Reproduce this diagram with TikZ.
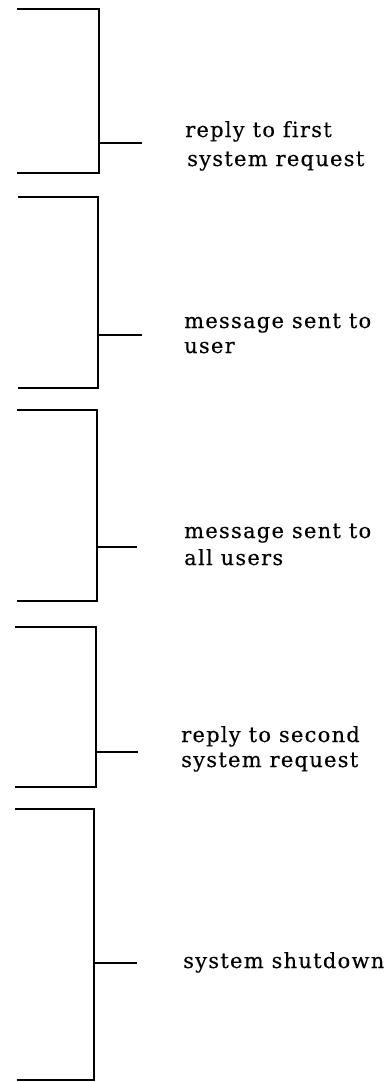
\documentclass[tikz,border=0pt]{standalone}
\usepackage{fontspec}
\setmainfont{DejaVu Serif}[LetterSpace=6, Ligatures=NoCommon, FakeBold=0.3]
\begin{document}
\begin{tikzpicture}[x=1pt,y=-1pt,
  br/.style={line width=1.7pt, line join=miter},
  lbl/.style={anchor=base west, inner sep=0pt, font=\fontsize{21}{25}\selectfont}]
\useasboundingbox (0,0) rectangle (390,1082);
% bracket 1
\draw[br] (17,9) -- (99,9) -- (99,173) -- (17,173);
\draw[br] (99,143) -- (142,143);
% bracket 2
\draw[br] (18,197) -- (98,197) -- (98,388) -- (18,388);
\draw[br] (98,335) -- (142,335);
% bracket 3
\draw[br] (17,410) -- (97,410) -- (97,601) -- (17,601);
\draw[br] (97,547) -- (137,547);
% bracket 4
\draw[br] (15,627) -- (96,627) -- (96,787) -- (15,787);
\draw[br] (96,752) -- (138,752);
% bracket 5
\draw[br] (15,809) -- (94,809) -- (94,1080) -- (17,1080);
\draw[br] (94,963) -- (137,963);
% labels
\node[lbl] (l1a) at (185,137) {reply to first};
\node[lbl] (l1b) at (187,166) {system request};
\node[lbl] (l2a) at (184,328) {message sent to};
\node[lbl] (l2b) at (184,353) {user};
\node[lbl] (l3a) at (184,538) {message sent to};
\node[lbl] (l3b) at (184,565) {all users};
\node[lbl] (l4a) at (181,742) {reply to second};
\node[lbl] (l4b) at (181,767) {system request};
\node[lbl] (l5) at (183,968) {system shutdown};
\end{tikzpicture}
\end{document}
